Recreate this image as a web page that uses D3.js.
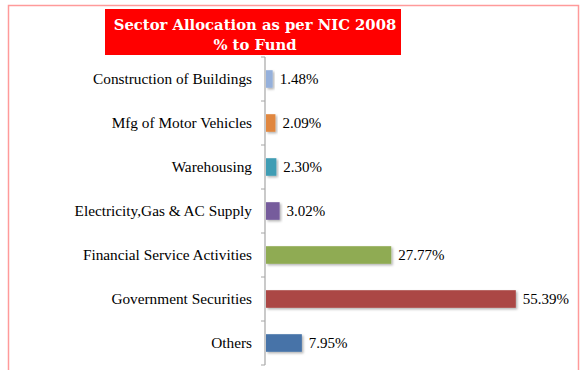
<!DOCTYPE html>
<html>
<head>
<meta charset="utf-8">
<script src="https://cdn.jsdelivr.net/npm/d3@7"></script>
<style>
  html, body { margin: 0; padding: 0; background: #fff; }
  svg { display: block; }
</style>
</head>
<body>
<svg id="chart" width="584" height="370"></svg>
<script>
// Sector allocation data (top to bottom)
const sectors = [
  "Construction of Buildings",
  "Mfg of Motor Vehicles",
  "Warehousing",
  "Electricity,Gas & AC Supply",
  "Financial Service Activities",
  "Government Securities",
  "Others"
];
const allocation = [1.48, 2.09, 2.30, 3.02, 27.77, 55.39, 7.95];
const barColors = ["#95b0db", "#e0873f", "#419db4", "#765b9c", "#8fab52", "#ab4745", "#4673a8"];
const titleLines = ["Sector Allocation as per NIC 2008", "% to Fund"];

const svg = d3.select("#chart");
const serif = "'Liberation Serif', 'Times New Roman', serif";

// drop shadow for bars
const defs = svg.append("defs");
const f = defs.append("filter").attr("id", "shadow")
  .attr("x", "-10%").attr("y", "-30%").attr("width", "130%").attr("height", "180%");
f.append("feDropShadow").attr("dx", 1.5).attr("dy", 1.5).attr("stdDeviation", 1)
  .attr("flood-color", "#000").attr("flood-opacity", 0.3);

// outer frame
svg.append("rect")
  .attr("x", 8.5).attr("y", 5.5).attr("width", 570).attr("height", 380)
  .attr("fill", "none").attr("stroke", "#ff9a9a").attr("stroke-width", 1.5);

// title banner
svg.append("rect")
  .attr("x", 105).attr("y", 9).attr("width", 296).attr("height", 46)
  .attr("fill", "#ff0000");
svg.append("g").selectAll("text").data(titleLines).join("text")
  .attr("x", 255).attr("y", (d, i) => 30 + i * 20)
  .attr("text-anchor", "middle")
  .attr("fill", "#fff")
  .attr("font-family", "'DejaVu Serif', serif")
  .attr("font-weight", "bold")
  .attr("font-size", 14.8)
  .text(d => d);

// scales
const x0 = 265;
const x = d3.scaleLinear().domain([0, 60]).range([x0, x0 + 60 * 4.51]);
const y = d3.scaleBand().domain(sectors).range([57, 365]).paddingInner(0.6).paddingOuter(0.3);

// bars
svg.append("g").selectAll("rect").data(sectors).join("rect")
  .attr("x", x(0) + 1)
  .attr("y", d => y(d))
  .attr("width", (d, i) => x(allocation[i]) - x(0))
  .attr("height", y.bandwidth())
  .attr("fill", (d, i) => barColors[i])
  .attr("filter", "url(#shadow)");

// value labels
svg.append("g").selectAll("text").data(sectors).join("text")
  .attr("x", (d, i) => x(allocation[i]) + 8)
  .attr("y", d => y(d) + y.bandwidth() / 2)
  .attr("dy", "0.35em")
  .attr("font-family", serif)
  .attr("font-size", 15)
  .attr("fill", "#000")
  .text((d, i) => allocation[i].toFixed(2) + "%");

// category axis
const step = (365 - 57) / sectors.length;
const axisG = svg.append("g");
axisG.append("line")
  .attr("x1", x0).attr("x2", x0).attr("y1", 57).attr("y2", 365)
  .attr("stroke", "#a6a6a6").attr("stroke-width", 1.2);
axisG.selectAll("line.tick").data(d3.range(sectors.length + 1)).join("line")
  .attr("class", "tick")
  .attr("x1", x0 - 4).attr("x2", x0)
  .attr("y1", i => 57 + i * step).attr("y2", i => 57 + i * step)
  .attr("stroke", "#a6a6a6").attr("stroke-width", 1);
axisG.selectAll("text").data(sectors).join("text")
  .attr("x", 252)
  .attr("y", d => y(d) + y.bandwidth() / 2)
  .attr("dy", "0.35em")
  .attr("text-anchor", "end")
  .attr("font-family", serif)
  .attr("font-size", 15.3)
  .attr("fill", "#000")
  .text(d => d);
</script>
</body>
</html>
